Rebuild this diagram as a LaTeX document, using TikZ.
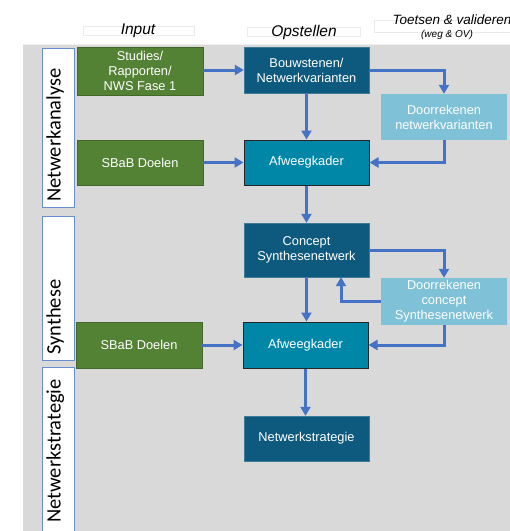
\documentclass[tikz,border=0pt]{standalone}
\usepackage{fontspec}
\setmainfont{Liberation Sans}
\newfontfamily\calib{Carlito}
\usetikzlibrary{arrows.meta,positioning,calc}
\definecolor{bggray}{HTML}{D9D9D9}
\definecolor{pgreen}{HTML}{548235}
\definecolor{pdark}{HTML}{0E5A7E}
\definecolor{pteal}{HTML}{0087A8}
\definecolor{plight}{HTML}{7FC1D6}
\definecolor{parrow}{HTML}{4472C4}
\tikzset{
  box/.style={rectangle, inner sep=0pt, text=white, align=center,
    font=\fontsize{12.8}{15}\selectfont},
  greenbox/.style={box, fill=pgreen, draw=pgreen!80!black, line width=0.4pt},
  darkbox/.style={box, fill=pdark, draw=pdark!80!white, line width=0.4pt},
  tealbox/.style={box, fill=pteal, draw=black!85, line width=1pt},
  lightbox/.style={box, fill=plight},
  lab/.style={rectangle, fill=white, draw=parrow!80, line width=0.8pt},
  labtext/.style={rotate=90, anchor=mid west, inner sep=0pt,
    font=\calib\fontsize{20.5}{22}\selectfont},
  headbox/.style={rectangle, fill=white, draw=black!8, line width=0.5pt},
  headtext/.style={inner sep=0pt, font=\itshape\fontsize{15.5}{17}\selectfont},
  flow/.style={draw=parrow, line width=3pt, -{Triangle[length=9pt,width=10pt]}}
}
\begin{document}
\begin{tikzpicture}[x=1pt,y=-1pt]
\useasboundingbox (0,0) rectangle (510,531);
\fill[white] (0,0) rectangle (510,531);
\fill[bggray] (23,45) rectangle (510,531);
\draw[black!6, line width=0.6pt] (23,44.5) -- (510,44.5);

% header
\node[headbox, minimum width=111pt, minimum height=9pt] (hb1) at (138.5,30.5) {};
\node[headbox, minimum width=113pt, minimum height=9pt] (hb2) at (303.5,31.5) {};
\node[headbox, minimum width=136pt, minimum height=12pt] (hb3) at (442,26) {};
\node[headtext] (h1) at (138,31) {Input};
\node[headtext] (h2) at (304,32) {Opstellen};
\node[headtext, font=\itshape\fontsize{13.5}{15}\selectfont] (h3) at (452,20) {Toetsen \& valideren};
\node[headtext, font=\itshape\fontsize{10}{12}\selectfont] (h4) at (447,35) {(weg \& OV)};

% left labels
\node[lab, minimum width=32pt, minimum height=159pt] (l1) at (58,127.5) {};
\node[lab, minimum width=32pt, minimum height=144pt] (l2) at (58,288) {};
\node[lab, minimum width=32pt, minimum height=175pt] (l3) at (58,454.5) {};
\node[labtext] (t1) at (58,202) {Netwerkanalyse};
\node[labtext] (t2) at (58,355) {Synthese};
\node[labtext] (t3) at (58,523) {Netwerkstrategie};

% boxes
\node[greenbox, minimum width=126pt, minimum height=48pt] (studies) at (140,71) {Studies/\\Rapporten/\\NWS Fase 1};
\node[darkbox, minimum width=125pt, minimum height=46pt] (bouw) at (306.5,70) {Bouwstenen/\\Netwerkvarianten};
\node[lightbox, minimum width=126pt, minimum height=46pt] (doorNV) at (444,117) {Doorrekenen\\netwerkvarianten};
\node[greenbox, minimum width=126pt, minimum height=45pt] (sbab1) at (140,162.5) {SBaB Doelen};
\node[tealbox, minimum width=125pt, minimum height=45pt] (afw1) at (306.5,162.5) {Afweegkader};
\node[darkbox, minimum width=125pt, minimum height=54pt] (concept) at (306.5,250) {Concept\\Synthesenetwerk};
\node[lightbox, minimum width=126pt, minimum height=47pt] (doorC) at (444,301.5) {Doorrekenen\\concept\\Synthesenetwerk};
\node[greenbox, minimum width=126pt, minimum height=46pt] (sbab2) at (139,345) {SBaB Doelen};
\node[tealbox, minimum width=125pt, minimum height=46pt] (afw2) at (305.5,345) {Afweegkader};
\node[darkbox, minimum width=125pt, minimum height=45pt] (strat) at (306.5,438.5) {Netwerkstrategie};

% connectors
\draw[flow] (studies.east |- bouw.west) -- (bouw.west);
\draw[flow] (bouw.east) -| (doorNV.north);
\draw[flow] (bouw.south) -- (afw1.north);
\draw[flow] (sbab1.east) -- (afw1.west);
\draw[flow] (doorNV.south) |- (afw1.east);
\draw[flow] (afw1.south) -- (concept.north);
\draw[flow] (concept.east) -| (doorC.north);
\draw[flow] (doorC.west) -| ([xshift=34.5pt]concept.south);
\draw[flow] (concept.south) -- (concept.south |- afw2.north);
\draw[flow] (sbab2.east) -- (afw2.west);
\draw[flow] (doorC.south) |- (afw2.east);
\draw[flow] (afw2.south) -- (afw2.south |- strat.north);
\end{tikzpicture}
\end{document}
